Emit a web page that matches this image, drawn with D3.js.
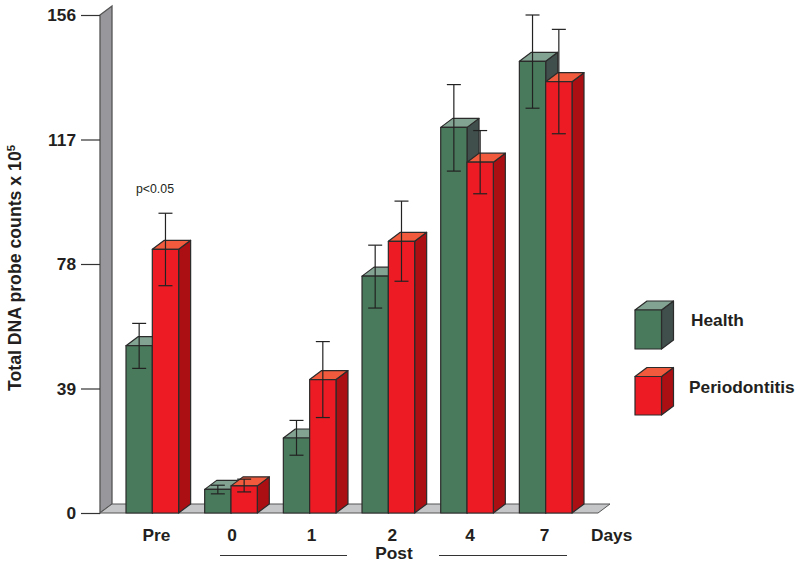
<!DOCTYPE html>
<html>
<head>
<meta charset="utf-8">
<script src="https://cdn.jsdelivr.net/npm/d3@7"></script>
<style>
  html, body { margin: 0; padding: 0; background: #fff; }
  svg { display: block; }
  text { font-family: "Liberation Sans", Arial, sans-serif; fill: #231f20; }
  .bold { font-weight: bold; font-size: 17.3px; }
</style>
</head>
<body>
<div id="chart"></div>
<script>
// values
const days = ["Pre", "0", "1", "2", "4", "7"];
const yTicks = [0, 39, 78, 117, 156];
const healthMeans = [52.4, 7.4, 23.5, 74.2, 120.8, 141.5];
const healthHigh = [59.4, 8.7, 29.0, 83.9, 134.2, 156];
const healthLow = [45.3, 6.0, 18.1, 64.2, 107.1, 126.8];
const perioMeans = [82.6, 8.5, 41.8, 85.1, 109.9, 135.1];
const perioHigh = [93.9, 10.6, 53.7, 97.7, 119.8, 151.5];
const perioLow = [71.2, 6.6, 29.9, 72.6, 100, 118.8];

const width = 800;
const height = 565;
const depthX = 12;
const depthY = 9;
const capHalf = 7;

const healthColors = { front: "#4a7a5c", top: "#83a392", side: "#414f4c" };
const perioColors = { front: "#ed1c24", top: "#f15a3c", side: "#ab0f14" };
const edge = "#2b2b2b";

const svg = d3.select("#chart")
    .append("svg")
    .attr("width", width)
    .attr("height", height);

const y = d3.scaleLinear().domain([0, 156]).range([513, 15]);
const x = d3.scaleBand().domain(days).range([126, 572]).paddingInner(0.331);
const barW = x.bandwidth() / 2;

// back wall and floor
svg.append("polygon")
    .attr("points", [[100, y(156)], [100 + depthX, y(156) - depthY], [100 + depthX, y(0) - depthY], [100, y(0)]].join(" "))
    .attr("fill", "#98989c")
    .attr("stroke", "#555")
    .attr("stroke-width", 1.3);

svg.append("polygon")
    .attr("points", [[100, y(0)], [100 + depthX, y(0) - depthY], [610, y(0) - depthY], [598, y(0)]].join(" "))
    .attr("fill", "#c5c6c8")
    .attr("stroke", "#555")
    .attr("stroke-width", 1);

// draws one box, the same way for bars and legend keys
function drawBox(parent, x0, w, top, bottom, colors) {
    const box = parent.append("g")
        .attr("stroke", edge)
        .attr("stroke-width", 1.2)
        .attr("stroke-linejoin", "round");
    box.append("polygon")
        .attr("points", [[x0 + w, top], [x0 + w + depthX, top - depthY], [x0 + w + depthX, bottom - depthY], [x0 + w, bottom]].join(" "))
        .attr("fill", colors.side);
    box.append("polygon")
        .attr("points", [[x0, top], [x0 + depthX, top - depthY], [x0 + w + depthX, top - depthY], [x0 + w, top]].join(" "))
        .attr("fill", colors.top);
    box.append("rect")
        .attr("x", x0)
        .attr("y", top)
        .attr("width", w)
        .attr("height", bottom - top)
        .attr("fill", colors.front);
}

const bars = svg.append("g");
days.forEach((d, i) => {
    drawBox(bars, x(d), barW, y(healthMeans[i]), y(0), healthColors);
    drawBox(bars, x(d) + barW, barW, y(perioMeans[i]), y(0), perioColors);
});

// error bars go on top of all the boxes
function drawErrors(high, low, offset) {
    const g = svg.append("g")
        .attr("stroke", "#222")
        .attr("stroke-width", 1.2);
    days.forEach((d, i) => {
        const cx = x(d) + offset;
        g.append("line").attr("x1", cx).attr("x2", cx).attr("y1", y(high[i])).attr("y2", y(low[i]));
        g.append("line").attr("x1", cx - capHalf).attr("x2", cx + capHalf).attr("y1", y(high[i])).attr("y2", y(high[i]));
        g.append("line").attr("x1", cx - capHalf).attr("x2", cx + capHalf).attr("y1", y(low[i])).attr("y2", y(low[i]));
    });
}
drawErrors(healthHigh, healthLow, barW / 2);
drawErrors(perioHigh, perioLow, barW * 1.5);

// y axis
const yAxis = svg.append("g")
    .attr("transform", "translate(100,0)")
    .call(d3.axisLeft(y).tickValues(yTicks).tickSize(19).tickPadding(5));
yAxis.select(".domain").remove();
yAxis.selectAll("line").attr("stroke", "#333").attr("stroke-width", 1.2);
yAxis.selectAll("text").attr("class", "bold").attr("fill", "#231f20").style("font-size", "17.3px");

const yTitle = svg.append("text")
    .attr("class", "bold")
    .style("font-size", "17.7px")
    .attr("transform", "translate(21,391) rotate(-90)");
yTitle.append("tspan").text("Total DNA probe counts x 10");
yTitle.append("tspan").attr("dy", -6).style("font-size", "11.5px").text("5");

// x labels, nudged a little off the group centres as in the picture
const labelNudge = [4, 1, 2, 4, 3, -1];
svg.append("g").selectAll("text")
    .data(days)
    .enter()
    .append("text")
    .attr("class", "bold")
    .attr("text-anchor", "middle")
    .attr("x", (d, i) => x(d) + x.bandwidth() / 2 + labelNudge[i])
    .attr("y", 541)
    .text(d => d);

svg.append("text").attr("class", "bold").attr("x", 591).attr("y", 541).text("Days");
svg.append("text").attr("class", "bold").attr("x", 394).attr("y", 559).attr("text-anchor", "middle").text("Post");

svg.append("line").attr("x1", 220).attr("x2", 347).attr("y1", 555.5).attr("y2", 555.5).attr("stroke", "#333").attr("stroke-width", 1.1);
svg.append("line").attr("x1", 439).attr("x2", 567).attr("y1", 555.5).attr("y2", 555.5).attr("stroke", "#333").attr("stroke-width", 1.1);

svg.append("text")
    .attr("x", 155)
    .attr("y", 193)
    .attr("text-anchor", "middle")
    .style("font-size", "12.3px")
    .text("p<0.05");

// legend
drawBox(svg, 635, 26.5, 310, 349, healthColors);
drawBox(svg, 635, 26.5, 376.5, 415, perioColors);
svg.append("text").attr("class", "bold").attr("x", 691).attr("y", 326).text("Health");
svg.append("text").attr("class", "bold").attr("x", 689).attr("y", 393).text("Periodontitis");
</script>
</body>
</html>
